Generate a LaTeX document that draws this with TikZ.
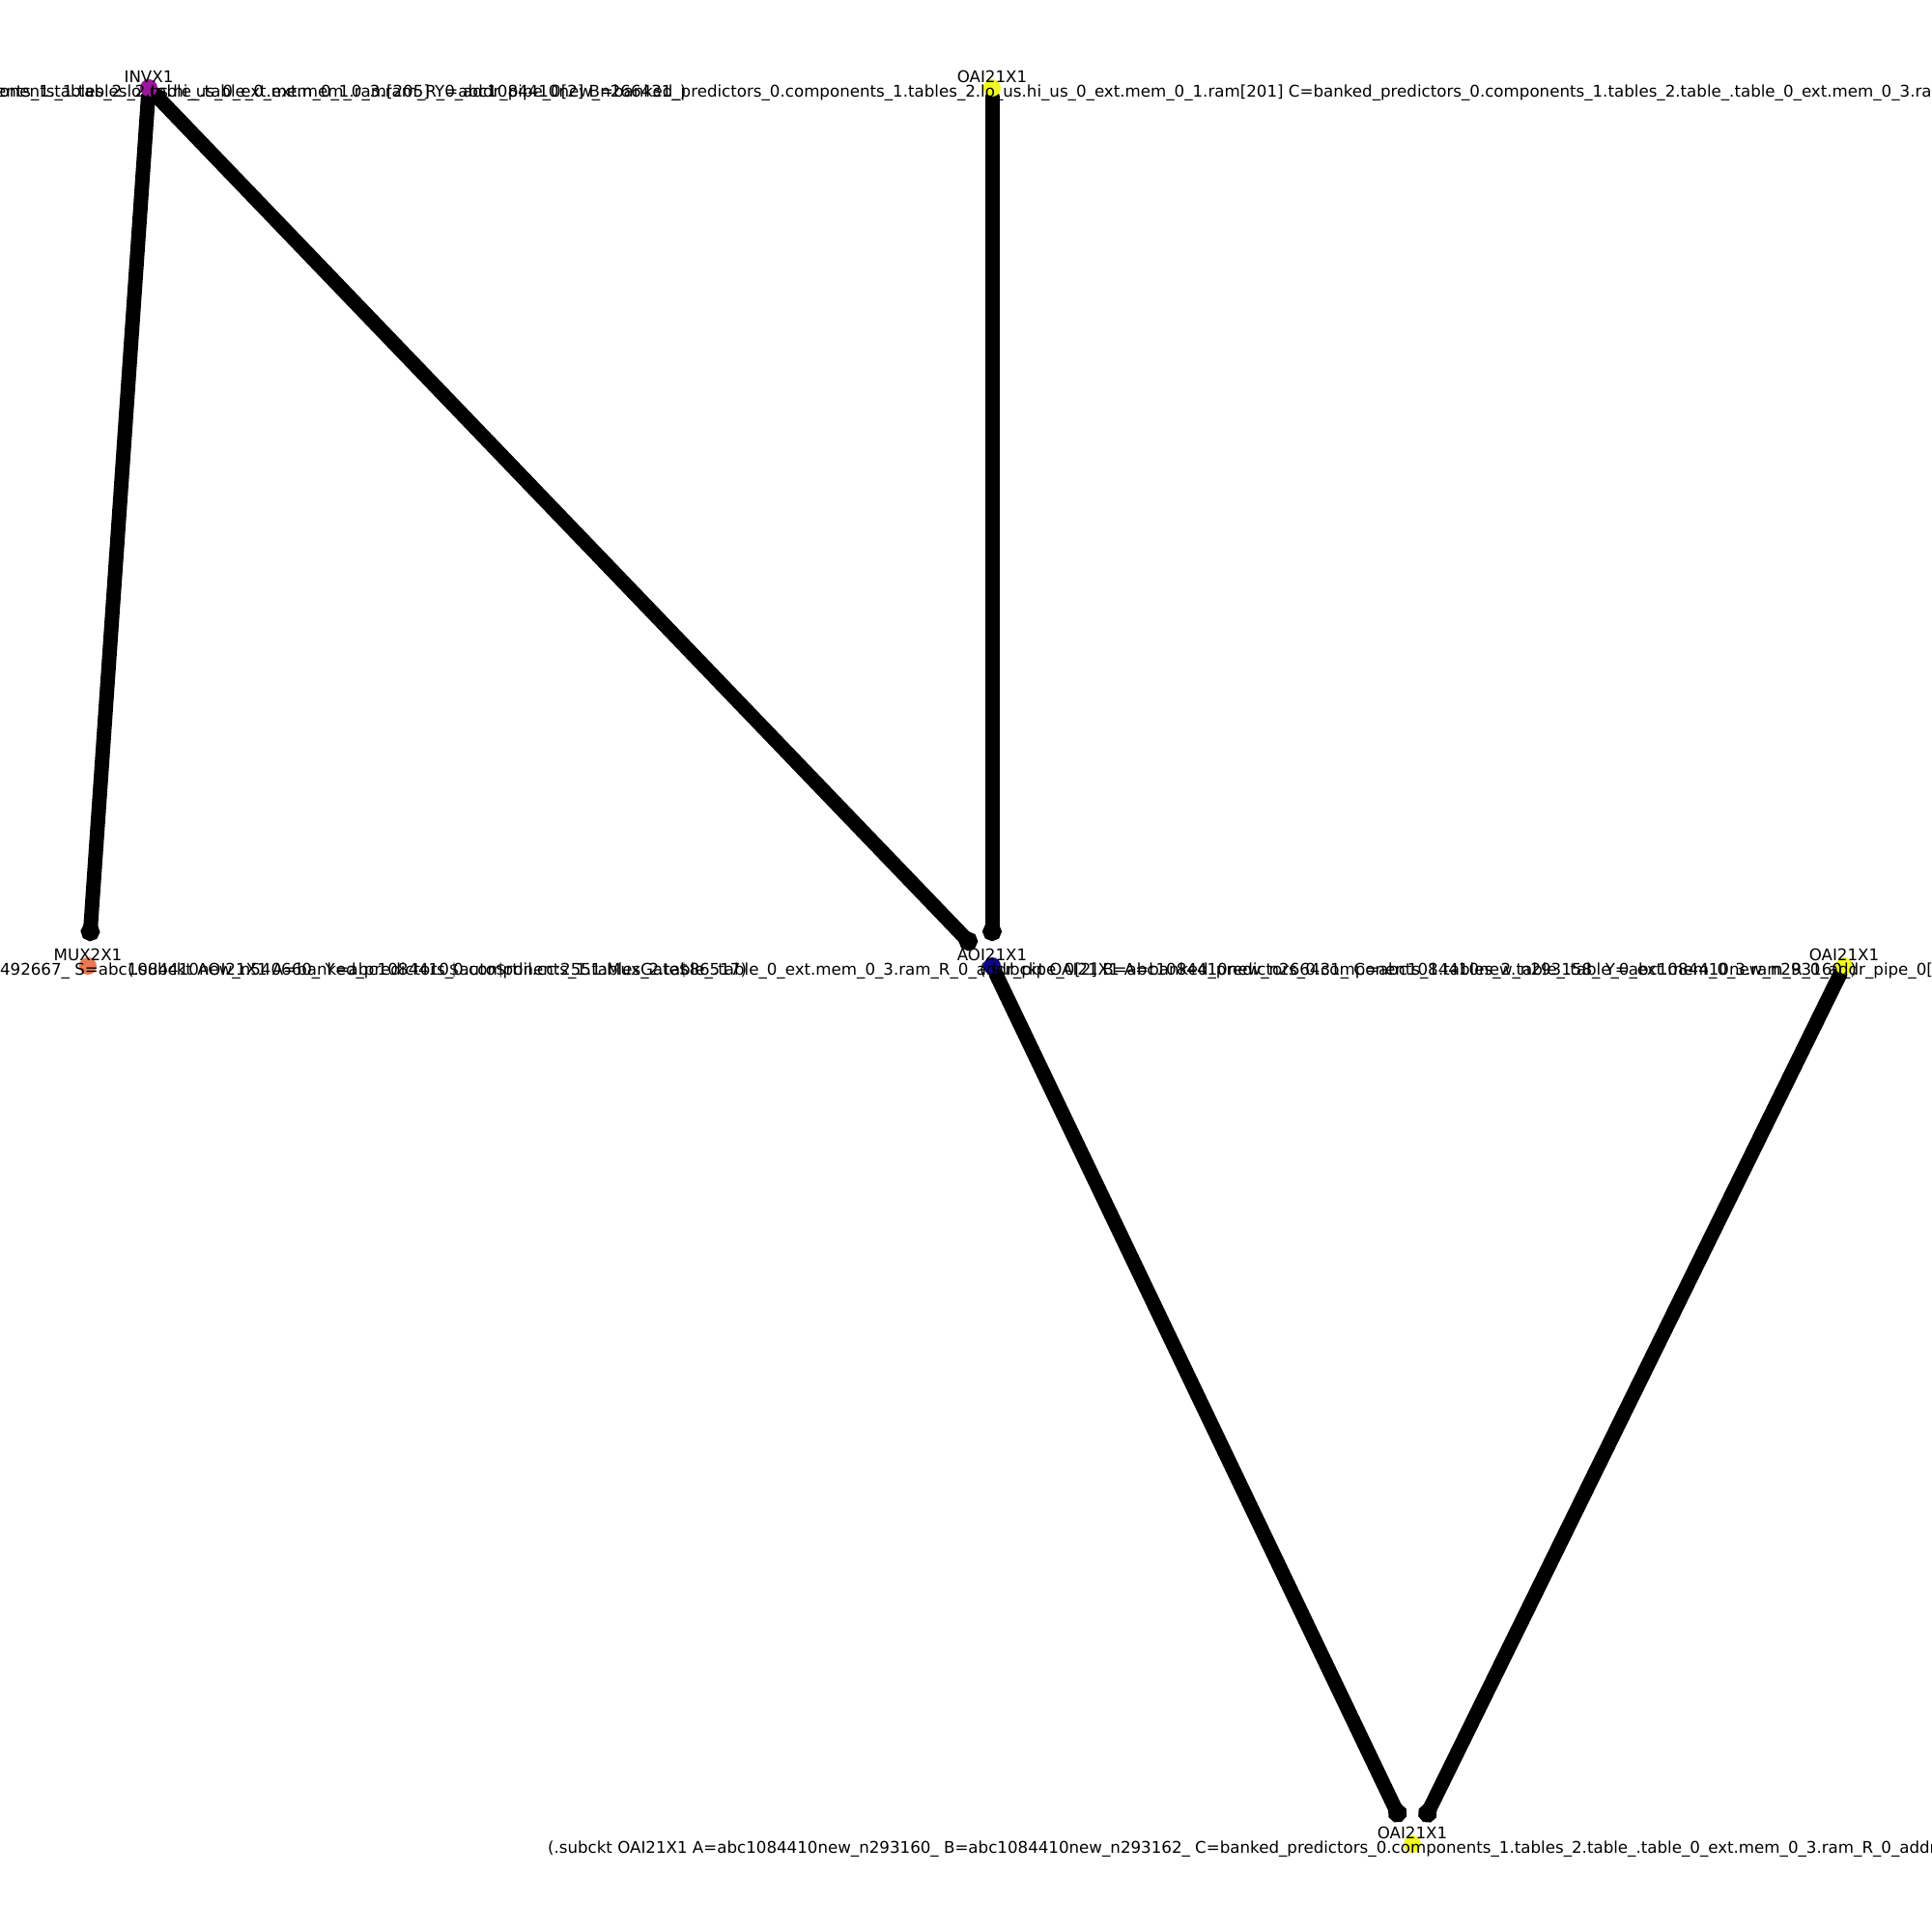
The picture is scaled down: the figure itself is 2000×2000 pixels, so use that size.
\documentclass[tikz,border=0pt]{standalone}
\usepackage{fontspec}
\setmainfont{DejaVu Sans}
\usetikzlibrary{arrows.meta,backgrounds}
\begin{document}
\begin{tikzpicture}[x=0.72pt,y=-0.72pt,
  gate/.style={circle,inner sep=0pt,minimum size=13pt},
  wire/.style={line width=10.8pt,line cap=round,-{Circle[length=14pt]},shorten >=12pt},
  lbl/.style={font=\fontsize{12}{14}\selectfont,inner sep=0pt,anchor=center}]
\useasboundingbox (0,0) rectangle (2000,2000);
\clip (0,0) rectangle (2000,2000);
\definecolor{cpurple}{HTML}{9C179E}
\definecolor{csalmon}{HTML}{ED7953}
\definecolor{cnavy}{HTML}{0D0887}
\definecolor{cyellow}{HTML}{F0F921}
% gates
\node[gate,fill=cpurple] (inv) at (154,91) {};
\node[gate,fill=cyellow] (oaitop) at (1027,91) {};
\node[gate,fill=csalmon] (mux) at (91,1000) {};
\node[gate,fill=cnavy] (aoi) at (1027,1000) {};
\node[gate,fill=cyellow] (oairight) at (1909,1000) {};
\node[gate,fill=cyellow] (oaibot) at (1462,1909) {};
% connectors
\begin{scope}[on background layer]
\draw[wire] (inv) -- (mux);
\draw[wire] (inv) -- (aoi);
\draw[wire] (oaitop) -- (aoi);
\draw[wire] (aoi) -- (oaibot);
\draw[wire] (oairight) -- (oaibot);
\end{scope}
% long labels
\node[lbl] (invtext) at (154,96) {(.subckt INVX1 A=banked\_predictors\_0.components\_1.tables\_2.lo\_us.hi\_us\_0\_ext.mem\_0\_1.ram[205] Y=abc1084410new\_n266431\_)};
\node[lbl] (oaitoptext) at (1027,96) {(.subckt OAI21X1 A=banked\_predictors\_0.components\_1.tables\_2.table\_.table\_0\_ext.mem\_0\_3.ram\_R\_0\_addr\_pipe\_0[2] B=banked\_predictors\_0.components\_1.tables\_2.lo\_us.hi\_us\_0\_ext.mem\_0\_1.ram[201] C=banked\_predictors\_0.components\_1.tables\_2.table\_.table\_0\_ext.mem\_0\_3.ram\_R\_0\_addr\_pipe\_0[1] Y=abc1084410new\_n293158\_)};
\node[lbl] (muxtext) at (91,1005) {(.subckt MUX2X1 A=abc1084410new\_n266431\_ B=abc1084410new\_n492667\_ S=abc1084410new\_n540660\_ Y=abc1084410\$auto\$rtlil.cc:2551:MuxGate\$86517)};
\node[lbl] (aoitext) at (1027,1005) {(.subckt AOI21X1 A=banked\_predictors\_0.components\_1.tables\_2.table\_.table\_0\_ext.mem\_0\_3.ram\_R\_0\_addr\_pipe\_0[2] B=abc1084410new\_n266431\_ C=abc1084410new\_n293158\_ Y=abc1084410new\_n293160\_)};
\node[lbl] (oairighttext) at (1909,1005) {(.subckt OAI21X1 A=banked\_predictors\_0.components\_1.tables\_2.table\_.table\_0\_ext.mem\_0\_3.ram\_R\_0\_addr\_pipe\_0[1] B=abc1084410new\_n266431\_ C=abc1084410new\_n293159\_ Y=abc1084410new\_n293162\_)};
\node[lbl] (oaibottext) at (1462,1914) {(.subckt OAI21X1 A=abc1084410new\_n293160\_ B=abc1084410new\_n293162\_ C=banked\_predictors\_0.components\_1.tables\_2.table\_.table\_0\_ext.mem\_0\_3.ram\_R\_0\_addr\_pipe\_0[2] Y=abc1084410new\_n293159\_)};
% gate names
\node[lbl] (invname) at (154,79) {INVX1};
\node[lbl] (oaitopname) at (1027,79) {OAI21X1};
\node[lbl] (muxname) at (91,988) {MUX2X1};
\node[lbl] (aoiname) at (1027,988) {AOI21X1};
\node[lbl] (oairightname) at (1909,988) {OAI21X1};
\node[lbl] (oaibotname) at (1462,1897) {OAI21X1};
\end{tikzpicture}
\end{document}
